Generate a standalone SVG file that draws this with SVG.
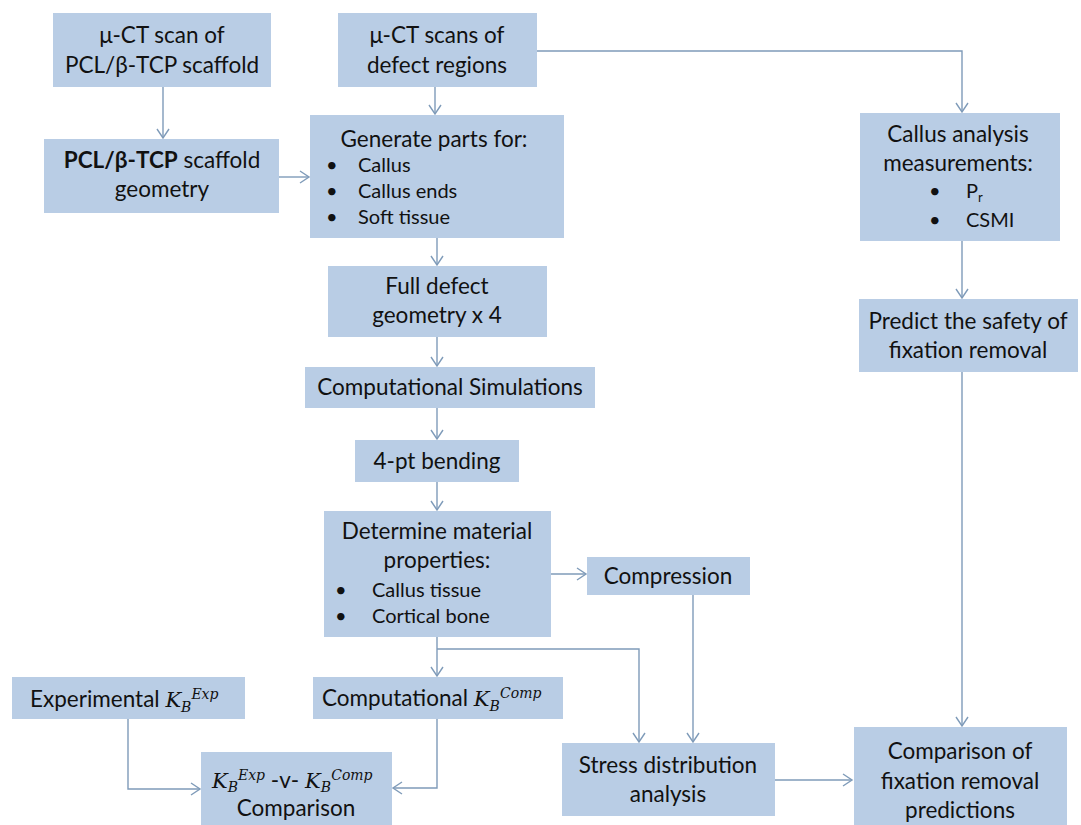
<svg xmlns="http://www.w3.org/2000/svg" width="1081" height="825" viewBox="0 0 1081 825">
  <style>
    .box { fill: #B9CDE5; }
    .t { font-family: Lato, "Liberation Sans", sans-serif; font-size: 22.5px; fill: #111; }
    .c { text-anchor: middle; }
    .s { font-size: 20px; }
    .m { font-family: "DejaVu Serif", "Liberation Serif", serif; font-style: italic; font-size: 21px; }
    .sm { font-size: 14px; }
    .link { fill: none; stroke: #7F9BB9; stroke-width: 1.4; }
  </style>
  <defs>
    <marker id="arrow" markerUnits="userSpaceOnUse" markerWidth="12" markerHeight="14" refX="10" refY="7" orient="auto">
      <path d="M1,1 L10,7 L1,13" fill="none" stroke="#7F9BB9" stroke-width="1.4"/>
    </marker>
  </defs>
  <rect width="1081" height="825" fill="#FFFFFF"/>

  <!-- connectors -->
  <g id="connectors">
    <path class="link" d="M163,87 V138" marker-end="url(#arrow)"/>
    <path class="link" d="M279,177 H309" marker-end="url(#arrow)"/>
    <path class="link" d="M435,87 V114" marker-end="url(#arrow)"/>
    <path class="link" d="M537,51 H962 V112" marker-end="url(#arrow)"/>
    <path class="link" d="M437,238 V265" marker-end="url(#arrow)"/>
    <path class="link" d="M437,337 V366" marker-end="url(#arrow)"/>
    <path class="link" d="M437,408 V439" marker-end="url(#arrow)"/>
    <path class="link" d="M437,482 V510" marker-end="url(#arrow)"/>
    <path class="link" d="M551,574 H586" marker-end="url(#arrow)"/>
    <path class="link" d="M437,637 V676" marker-end="url(#arrow)"/>
    <path class="link" d="M437,649 H639 V742" marker-end="url(#arrow)"/>
    <path class="link" d="M693,595 V742" marker-end="url(#arrow)"/>
    <path class="link" d="M437,719 V788 H393" marker-end="url(#arrow)"/>
    <path class="link" d="M128,719 V789 H200" marker-end="url(#arrow)"/>
    <path class="link" d="M775,780 H852" marker-end="url(#arrow)"/>
    <path class="link" d="M962,241 V298" marker-end="url(#arrow)"/>
    <path class="link" d="M962,372 V726" marker-end="url(#arrow)"/>
  </g>

  <g id="scan-scaffold">
    <rect class="box" x="53" y="13" width="218" height="74"/>
    <text class="t c" x="162" y="43">μ-CT scan of</text>
    <text class="t c" x="162" y="73">PCL/β-TCP scaffold</text>
  </g>

  <g id="scaffold-geometry">
    <rect class="box" x="44" y="139" width="235" height="74"/>
    <text class="t c" x="162" y="168"><tspan font-weight="bold">PCL/β-TCP</tspan> scaffold</text>
    <text class="t c" x="162" y="197">geometry</text>
  </g>

  <g id="scan-defects">
    <rect class="box" x="338" y="13" width="199" height="74"/>
    <text class="t c" x="437" y="43">μ-CT scans of</text>
    <text class="t c" x="437" y="73">defect regions</text>
  </g>

  <g id="generate-parts">
    <rect class="box" x="310" y="115" width="254" height="123"/>
    <text class="t c" x="434" y="147">Generate parts for:</text>
    <text class="t s" x="326" y="172">•</text>
    <text class="t s" x="358" y="172">Callus</text>
    <text class="t s" x="326" y="198">•</text>
    <text class="t s" x="358" y="198">Callus ends</text>
    <text class="t s" x="326" y="224">•</text>
    <text class="t s" x="358" y="224">Soft tissue</text>
  </g>

  <g id="callus-analysis">
    <rect class="box" x="860" y="113" width="200" height="128"/>
    <text class="t c" x="958" y="142">Callus analysis</text>
    <text class="t c" x="958" y="171">measurements:</text>
    <text class="t s" x="929" y="198">•</text>
    <text class="t s" x="966" y="198">P<tspan font-size="13" dy="4">r</tspan></text>
    <text class="t s" x="929" y="227">•</text>
    <text class="t s" x="966" y="227">CSMI</text>
  </g>

  <g id="full-defect">
    <rect class="box" x="328" y="266" width="219" height="71"/>
    <text class="t c" x="437" y="294">Full defect</text>
    <text class="t c" x="437" y="323">geometry x 4</text>
  </g>

  <g id="simulations">
    <rect class="box" x="305" y="367" width="290" height="41"/>
    <text class="t c" x="450" y="395">Computational Simulations</text>
  </g>

  <g id="bending">
    <rect class="box" x="355" y="440" width="164" height="42"/>
    <text class="t c" x="437" y="469">4-pt bending</text>
  </g>

  <g id="material-properties">
    <rect class="box" x="324" y="511" width="227" height="126"/>
    <text class="t c" x="437" y="539">Determine material</text>
    <text class="t c" x="437" y="568">properties:</text>
    <text class="t s" x="335" y="597">•</text>
    <text class="t s" x="372" y="597">Callus tissue</text>
    <text class="t s" x="335" y="623">•</text>
    <text class="t s" x="372" y="623">Cortical bone</text>
  </g>

  <g id="compression">
    <rect class="box" x="587" y="557" width="163" height="38"/>
    <text class="t c" x="668" y="584">Compression</text>
  </g>

  <g id="experimental-kb">
    <rect class="box" x="12" y="677" width="233" height="42"/>
    <text class="t" x="30" y="707">Experimental <tspan class="m">K</tspan><tspan class="m sm" dy="5">B</tspan><tspan class="m sm" dy="-13">Exp</tspan></text>
  </g>

  <g id="computational-kb">
    <rect class="box" x="313" y="677" width="250" height="42"/>
    <text class="t" x="322" y="706">Computational <tspan class="m">K</tspan><tspan class="m sm" dy="5">B</tspan><tspan class="m sm" dy="-13">Comp</tspan></text>
  </g>

  <g id="kb-comparison">
    <rect class="box" x="201" y="752" width="191" height="73"/>
    <text class="t" x="212" y="788"><tspan class="m">K</tspan><tspan class="m sm" dy="4">B</tspan><tspan class="m sm" dy="-12">Exp</tspan><tspan dy="8"> -v- </tspan><tspan class="m">K</tspan><tspan class="m sm" dy="4">B</tspan><tspan class="m sm" dy="-12">Comp</tspan></text>
    <text class="t c" x="296" y="816">Comparison</text>
  </g>

  <g id="stress-distribution">
    <rect class="box" x="562" y="743" width="213" height="73"/>
    <text class="t c" x="668" y="773">Stress distribution</text>
    <text class="t c" x="668" y="802">analysis</text>
  </g>

  <g id="predict-safety">
    <rect class="box" x="859" y="299" width="219" height="73"/>
    <text class="t c" x="968" y="329">Predict the safety of</text>
    <text class="t c" x="968" y="358">fixation removal</text>
  </g>

  <g id="fixation-comparison">
    <rect class="box" x="854" y="727" width="213" height="98"/>
    <text class="t c" x="960" y="759">Comparison of</text>
    <text class="t c" x="960" y="789">fixation removal</text>
    <text class="t c" x="960" y="818">predictions</text>
  </g>
</svg>
